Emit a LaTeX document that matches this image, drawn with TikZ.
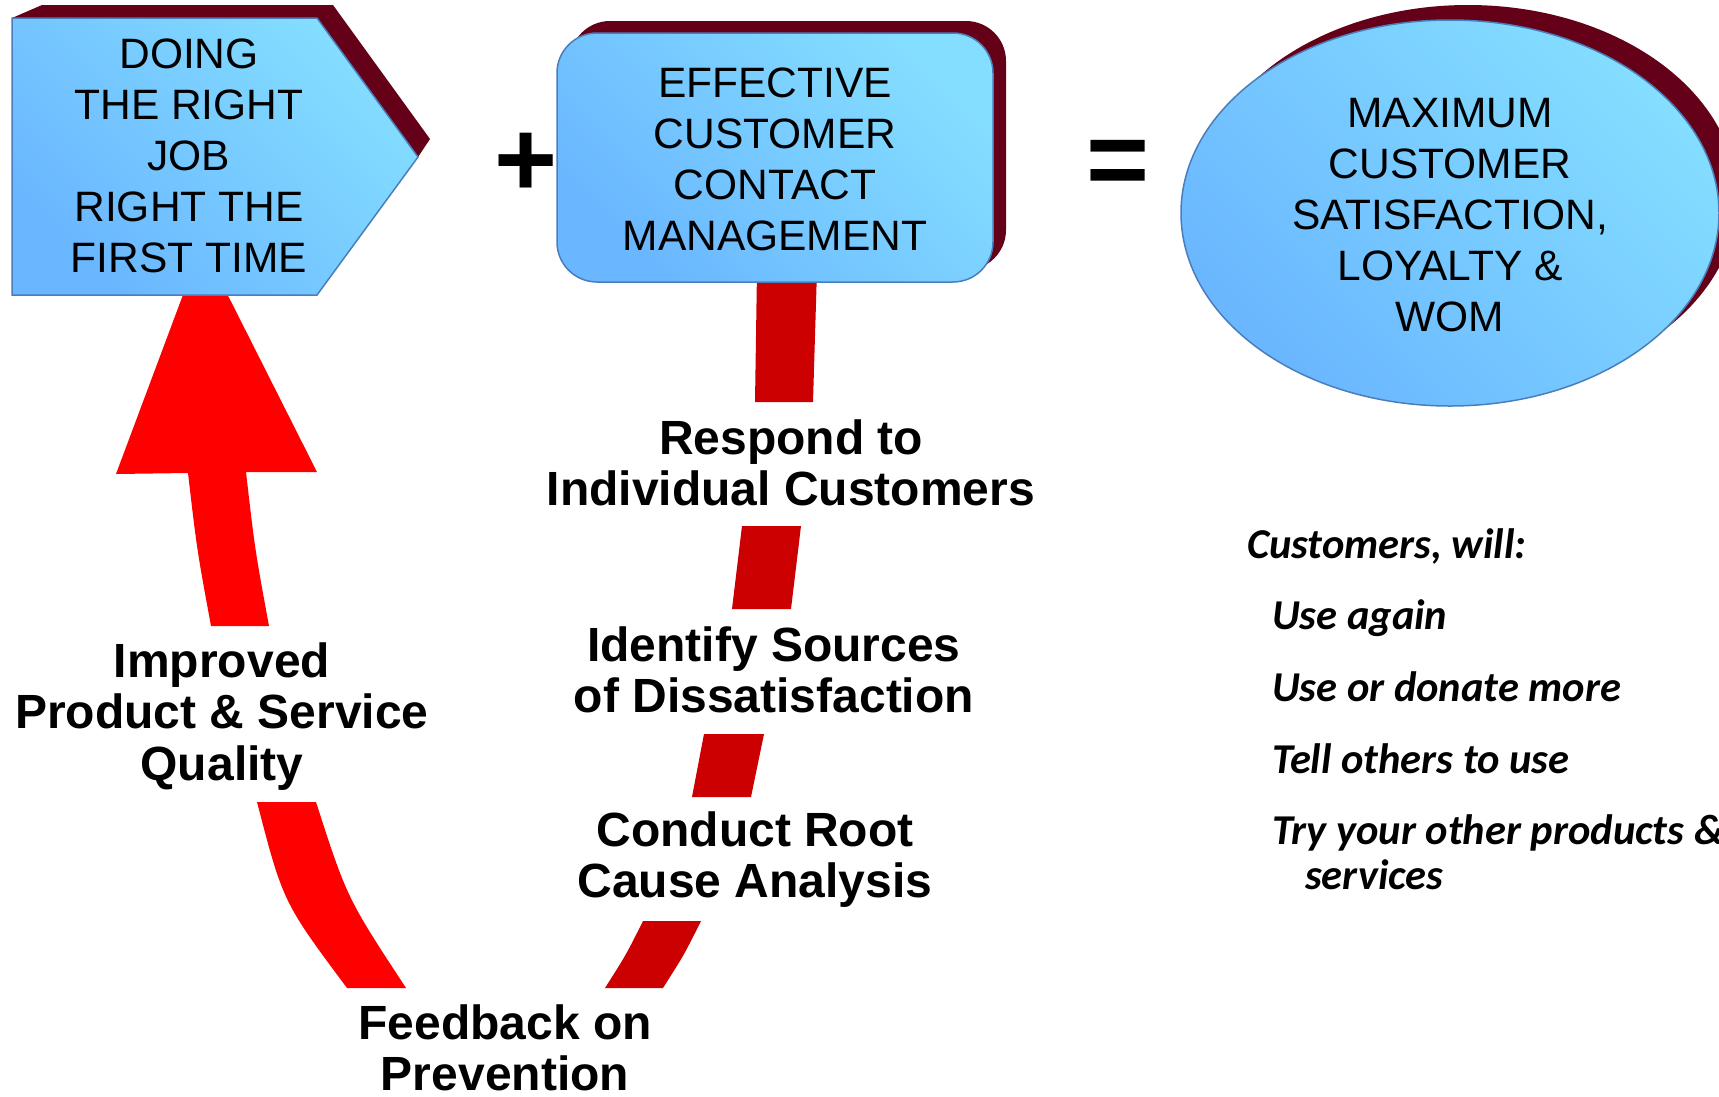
\documentclass[tikz,border=0pt]{standalone}
\usepackage{fontspec}
\setmainfont{Liberation Sans}
\newfontfamily\calib{Carlito}
\definecolor{blueL}{RGB}{106,182,255}
\definecolor{blueR}{RGB}{132,222,255}
\definecolor{edgeblue}{RGB}{74,126,187}
\definecolor{maroon}{RGB}{100,0,24}
\definecolor{brightred}{RGB}{255,0,0}
\definecolor{darkred}{RGB}{204,0,0}
\newcommand{\mylines}[1]{\begin{tabular}[t]{@{}c@{}}#1\end{tabular}}
\begin{document}
\begin{tikzpicture}[x=1pt,y=-1pt,
  bluebox/.style={draw=edgeblue,line width=1.5pt,left color=blueL,right color=blueR,shading angle=135},
  shadowfill/.style={fill=maroon},
  boxtext/.style={inner sep=0pt,anchor=base,font=\fontsize{42.5}{51}\selectfont},
  label/.style={inner sep=0pt,anchor=base,font=\fontsize{48}{51.5}\selectfont\bfseries},
  op/.style={inner sep=0pt,font=\fontsize{108}{108}\selectfont\bfseries},
  listtext/.style={inner sep=0pt,anchor=base west,font=\fontsize{42.5}{45}\selectfont\calib\bfseries\itshape}]
\useasboundingbox (0,0) rectangle (1719,1096);
% red loop pieces
\fill[brightred] (116,474) -- (202,244) -- (317,472) -- (246,472)
  .. controls (255,550) .. (269,626) -- (211,626)
  .. controls (197,550) .. (188,473) -- cycle;
\fill[brightred] (257,802) -- (316,802) .. controls (347,898) .. (406,988)
  -- (347,988) .. controls (283,902) .. (257,802) -- cycle;
\fill[darkred] (757,270) -- (817,270) -- (813,402) -- (755,402) -- cycle;
\fill[darkred] (742,526) -- (801,526) -- (791,609) -- (732,609) -- cycle;
\fill[darkred] (704,734) -- (764,734) -- (751,797) -- (692,797) -- cycle;
\fill[darkred] (643,921) -- (701,921) .. controls (684,955) .. (663,988)
  -- (605,988) .. controls (626,955) .. (643,921) -- cycle;
% pentagon
\fill[shadowfill] (12,18) -- (42,5) -- (333,5) -- (430,139) -- (418,157) -- (317,18) -- cycle;
\path[bluebox] (12,18) -- (317,18) -- (418,157) -- (317,295) -- (12,295) -- cycle;
\node[boxtext] (doing) at (189,68) {\mylines{DOING\\THE RIGHT\\JOB\\RIGHT THE\\FIRST TIME}};
% rounded box
\fill[shadowfill,rounded corners=40] (570,21) rectangle (1006,270);
\path[bluebox,rounded corners=40] (557,33) rectangle (993,282);
\node[boxtext] (ecc) at (775,97) {\mylines{EFFECTIVE\\CUSTOMER\\CONTACT\\MANAGEMENT}};
% ellipse
\fill[shadowfill] (1468,198) ellipse [x radius=269, y radius=193];
\path[bluebox] (1450,213) ellipse [x radius=269, y radius=193];
\node[boxtext] (max) at (1450,127) {\mylines{MAXIMUM\\CUSTOMER\\SATISFACTION,\\LOYALTY \&\\WOM}};
% operators
\node[op] (plus) at (526,165) {+};
\node[op] (equals) at (1118,168) {=};
% labels
\node[label] (improved) at (222,677) {\mylines{Improved\\Product \& Service\\Quality}};
\node[label] (respond) at (791,454) {\mylines{Respond to\\Individual Customers}};
\node[label] (identify) at (774,661) {\mylines{Identify Sources\\of Dissatisfaction}};
\node[label] (conduct) at (755,846) {\mylines{Conduct Root\\Cause Analysis}};
\node[label] (feedback) at (505,1039) {\mylines{Feedback on\\Prevention}};
% list
\node[listtext] (cw) at (1247,558) {Customers, will:};
\node[listtext] (u1) at (1272,629) {Use again};
\node[listtext] (u2) at (1272,701) {Use or donate more};
\node[listtext] (u3) at (1272,773) {Tell others to use};
\node[listtext] (u4) at (1272,844) {Try your other products \&};
\node[listtext] (u5) at (1305,889) {services};
\end{tikzpicture}
\end{document}
